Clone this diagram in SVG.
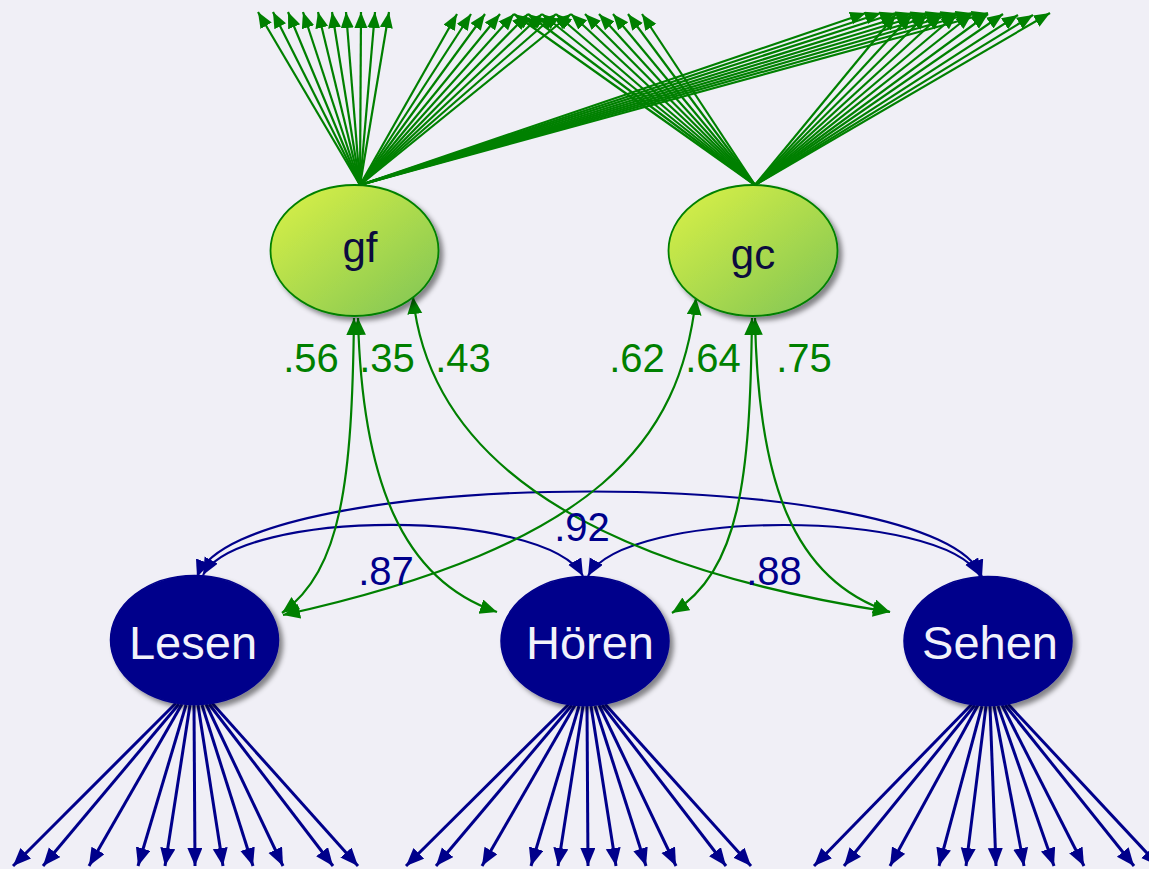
<svg xmlns="http://www.w3.org/2000/svg" width="1149" height="869" viewBox="0 0 1149 869">
  <style>
    .bg { fill: #f0eff6; }
    .load { stroke: #008000; stroke-width: 2.2; fill: none; marker-end: url(#ahG); }
    .cov-g { stroke: #008000; stroke-width: 2.2; fill: none; marker-start: url(#ahG2); marker-end: url(#ahG2); }
    .cov-b { stroke: #00008b; stroke-width: 2.2; fill: none; marker-start: url(#ahB2); marker-end: url(#ahB2); }
    .ind { stroke: #00008b; stroke-width: 3; fill: none; marker-end: url(#ahB); }
    .lab-g { font-family: "Liberation Sans", Arial, sans-serif; font-size: 40px; fill: #008000; text-anchor: middle; }
    .lab-b { font-family: "Liberation Sans", Arial, sans-serif; font-size: 40px; fill: #00008b; text-anchor: middle; }
    .gnode { fill: url(#gGrad); stroke: #008000; stroke-width: 1.8; filter: url(#shadow); }
    .bnode { fill: #00008b; stroke: #00008b; stroke-width: 1.5; filter: url(#shadow); }
    .gtxt { font-family: "Liberation Sans", Arial, sans-serif; font-size: 42px; fill: #0c0c3e; text-anchor: middle; }
    .btxt { font-family: "Liberation Sans", Arial, sans-serif; font-size: 47px; fill: #f2f2fa; text-anchor: middle; }
  </style>
  <defs>
    <linearGradient id="gGrad" x1="0" y1="0" x2="1" y2="1">
      <stop offset="0" stop-color="#dcf246"/>
      <stop offset="1" stop-color="#7ec455"/>
    </linearGradient>
    <filter id="shadow" x="-20%" y="-20%" width="140%" height="140%">
      <feDropShadow dx="4" dy="4" stdDeviation="2.5" flood-color="#000" flood-opacity="0.45"/>
    </filter>
    <marker id="ahG" markerUnits="userSpaceOnUse" markerWidth="18" markerHeight="16" refX="16" refY="6.5" orient="auto">
      <path d="M0,0 L16,6.5 L0,13 z" fill="#008000"/>
    </marker>
    <marker id="ahG2" markerUnits="userSpaceOnUse" markerWidth="19" markerHeight="17" refX="17" refY="7.5" orient="auto-start-reverse">
      <path d="M0,0 L17,7.5 L0,15 z" fill="#008000"/>
    </marker>
    <marker id="ahB" markerUnits="userSpaceOnUse" markerWidth="20" markerHeight="17" refX="18" refY="7.5" orient="auto">
      <path d="M0,0 L18,7.5 L0,15 z" fill="#00008b"/>
    </marker>
    <marker id="ahB2" markerUnits="userSpaceOnUse" markerWidth="19" markerHeight="17" refX="17" refY="7.5" orient="auto-start-reverse">
      <path d="M0,0 L17,7.5 L0,15 z" fill="#00008b"/>
    </marker>
  </defs>

  <rect class="bg" x="0" y="0" width="1149" height="869"/>

  <g id="connectors">
    <!-- gf loadings, left cluster -->
    <line class="load" x1="360" y1="185" x2="258" y2="12"/>
    <line class="load" x1="360" y1="185" x2="273" y2="12"/>
    <line class="load" x1="360" y1="185" x2="288" y2="12"/>
    <line class="load" x1="360" y1="185" x2="303" y2="12"/>
    <line class="load" x1="360" y1="185" x2="318" y2="12"/>
    <line class="load" x1="360" y1="185" x2="332" y2="12"/>
    <line class="load" x1="360" y1="185" x2="346" y2="12"/>
    <line class="load" x1="360" y1="185" x2="361" y2="12"/>
    <line class="load" x1="360" y1="185" x2="375" y2="12"/>
    <line class="load" x1="360" y1="185" x2="389" y2="12"/>
    <!-- gf loadings, middle cluster -->
    <line class="load" x1="360" y1="185" x2="457" y2="14"/>
    <line class="load" x1="360" y1="185" x2="471" y2="14"/>
    <line class="load" x1="360" y1="185" x2="485" y2="14"/>
    <line class="load" x1="360" y1="185" x2="500" y2="14"/>
    <line class="load" x1="360" y1="185" x2="514" y2="14"/>
    <line class="load" x1="360" y1="185" x2="528" y2="14"/>
    <line class="load" x1="360" y1="185" x2="542" y2="14"/>
    <line class="load" x1="360" y1="185" x2="556" y2="14"/>
    <line class="load" x1="360" y1="185" x2="571" y2="14"/>
    <!-- gf loadings, right cluster -->
    <line class="load" x1="360" y1="185" x2="866" y2="13"/>
    <line class="load" x1="360" y1="185" x2="881" y2="13"/>
    <line class="load" x1="360" y1="185" x2="896" y2="13"/>
    <line class="load" x1="360" y1="185" x2="912" y2="13"/>
    <line class="load" x1="360" y1="185" x2="927" y2="13"/>
    <line class="load" x1="360" y1="185" x2="942" y2="13"/>
    <line class="load" x1="360" y1="185" x2="957" y2="13"/>
    <line class="load" x1="360" y1="185" x2="972" y2="13"/>
    <line class="load" x1="360" y1="185" x2="988" y2="13"/>
    <!-- gc loadings, middle cluster -->
    <line class="load" x1="755" y1="185" x2="514" y2="14"/>
    <line class="load" x1="755" y1="185" x2="528" y2="14"/>
    <line class="load" x1="755" y1="185" x2="542" y2="14"/>
    <line class="load" x1="755" y1="185" x2="556" y2="14"/>
    <line class="load" x1="755" y1="185" x2="571" y2="14"/>
    <line class="load" x1="755" y1="185" x2="585" y2="14"/>
    <line class="load" x1="755" y1="185" x2="599" y2="14"/>
    <line class="load" x1="755" y1="185" x2="613" y2="14"/>
    <line class="load" x1="755" y1="185" x2="628" y2="14"/>
    <line class="load" x1="755" y1="185" x2="642" y2="14"/>
    <!-- gc loadings, right cluster -->
    <line class="load" x1="755" y1="185" x2="896" y2="14"/>
    <line class="load" x1="755" y1="185" x2="912" y2="14"/>
    <line class="load" x1="755" y1="185" x2="927" y2="14"/>
    <line class="load" x1="755" y1="185" x2="942" y2="14"/>
    <line class="load" x1="755" y1="185" x2="957" y2="14"/>
    <line class="load" x1="755" y1="185" x2="972" y2="14"/>
    <line class="load" x1="755" y1="185" x2="988" y2="14"/>
    <line class="load" x1="755" y1="185" x2="1003" y2="14"/>
    <line class="load" x1="755" y1="185" x2="1018" y2="15"/>
    <line class="load" x1="755" y1="185" x2="1033" y2="15"/>
    <line class="load" x1="755" y1="185" x2="1050" y2="13"/>

    <!-- covariances between group factors -->
    <path class="cov-b" d="M197,577 C240,463 940,463 982,577"/>
    <path class="cov-b" d="M203,575 C240,508 545,508 583,576"/>
    <path class="cov-b" d="M588,576 C626,508 942,508 980,576"/>

    <!-- covariances gf / gc with group factors -->
    <path class="cov-g" d="M354,318 C352,480 342,570 282,613"/>
    <path class="cov-g" d="M358,318 C362,480 402,580 497,612"/>
    <path class="cov-g" d="M413,297 C428,440 555,560 890,612"/>
    <path class="cov-g" d="M696,298 C680,440 600,545 283,615"/>
    <path class="cov-g" d="M752,318 C750,480 740,570 672,613"/>
    <path class="cov-g" d="M755,318 C758,480 792,580 890,612"/>

    <!-- Lesen indicators -->
    <line class="ind" x1="176" y1="703" x2="13" y2="866"/>
    <line class="ind" x1="179" y1="704" x2="43" y2="866"/>
    <line class="ind" x1="182" y1="704" x2="89" y2="866"/>
    <line class="ind" x1="186" y1="705" x2="138" y2="866"/>
    <line class="ind" x1="190" y1="705" x2="165" y2="866"/>
    <line class="ind" x1="194" y1="705" x2="195" y2="866"/>
    <line class="ind" x1="198" y1="705" x2="223" y2="866"/>
    <line class="ind" x1="202" y1="705" x2="253" y2="866"/>
    <line class="ind" x1="206" y1="704" x2="283" y2="866"/>
    <line class="ind" x1="209" y1="704" x2="333" y2="866"/>
    <line class="ind" x1="212" y1="703" x2="358" y2="866"/>
    <!-- Hören indicators -->
    <line class="ind" x1="569" y1="704" x2="406" y2="866"/>
    <line class="ind" x1="572" y1="705" x2="436" y2="866"/>
    <line class="ind" x1="575" y1="705" x2="482" y2="866"/>
    <line class="ind" x1="579" y1="706" x2="531" y2="866"/>
    <line class="ind" x1="583" y1="706" x2="558" y2="866"/>
    <line class="ind" x1="587" y1="706" x2="588" y2="866"/>
    <line class="ind" x1="591" y1="706" x2="616" y2="866"/>
    <line class="ind" x1="595" y1="706" x2="646" y2="866"/>
    <line class="ind" x1="599" y1="705" x2="676" y2="866"/>
    <line class="ind" x1="602" y1="705" x2="726" y2="866"/>
    <line class="ind" x1="605" y1="704" x2="751" y2="866"/>
    <!-- Sehen indicators -->
    <line class="ind" x1="972" y1="704" x2="814" y2="866"/>
    <line class="ind" x1="975" y1="705" x2="844" y2="866"/>
    <line class="ind" x1="978" y1="705" x2="890" y2="866"/>
    <line class="ind" x1="982" y1="706" x2="939" y2="866"/>
    <line class="ind" x1="986" y1="706" x2="966" y2="866"/>
    <line class="ind" x1="990" y1="706" x2="996" y2="866"/>
    <line class="ind" x1="994" y1="706" x2="1024" y2="866"/>
    <line class="ind" x1="998" y1="706" x2="1054" y2="866"/>
    <line class="ind" x1="1002" y1="705" x2="1084" y2="866"/>
    <line class="ind" x1="1005" y1="705" x2="1134" y2="866"/>
    <line class="ind" x1="1008" y1="704" x2="1159" y2="866"/>

    <!-- edge labels -->
    <text class="lab-g" x="311" y="372">.56</text>
    <text class="lab-g" x="387" y="372">.35</text>
    <text class="lab-g" x="463" y="372">.43</text>
    <text class="lab-g" x="637" y="372">.62</text>
    <text class="lab-g" x="713" y="372">.64</text>
    <text class="lab-g" x="804" y="372">.75</text>
    <text class="lab-b" x="582" y="541">.92</text>
    <text class="lab-b" x="386" y="585">.87</text>
    <text class="lab-b" x="774" y="585">.88</text>
  </g>

  <g id="gf">
    <ellipse class="gnode" cx="354.5" cy="250.5" rx="84" ry="65.5"/>
    <text class="gtxt" x="360" y="262">gf</text>
  </g>
  <g id="gc">
    <ellipse class="gnode" cx="753" cy="250.5" rx="84.5" ry="65.5"/>
    <text class="gtxt" x="753" y="269">gc</text>
  </g>
  <g id="Lesen">
    <ellipse class="bnode" cx="194.5" cy="640" rx="84" ry="64.5"/>
    <text class="btxt" x="193" y="659">Lesen</text>
  </g>
  <g id="Hoeren">
    <ellipse class="bnode" cx="585" cy="641" rx="84" ry="64.5"/>
    <text class="btxt" x="590" y="659">Hören</text>
  </g>
  <g id="Sehen">
    <ellipse class="bnode" cx="988" cy="641" rx="84" ry="64.5"/>
    <text class="btxt" x="990" y="659">Sehen</text>
  </g>
</svg>
